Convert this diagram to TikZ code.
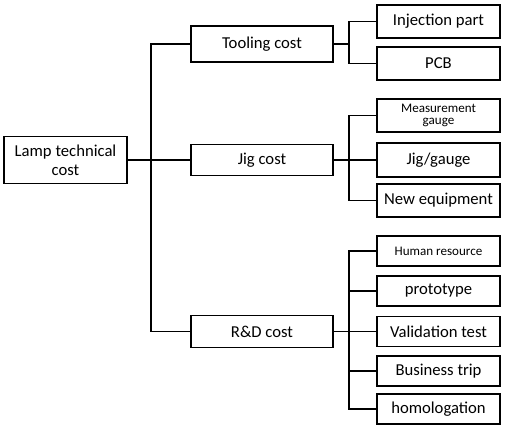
\documentclass[tikz,border=0pt]{standalone}
\usepackage{fontspec}
\setmainfont{Carlito}
\usepackage{tikz}

\begin{document}
\begin{tikzpicture}[x=0.75pt,y=-0.75pt,line width=1.4pt,
    box/.style={draw,inner sep=0pt,align=center,font=\fontsize{12.5}{14}\selectfont},
    leaf/.style={box,minimum width=92.25pt,minimum height=24.75pt},
    small/.style={font=\fontsize{9.8}{11}\selectfont}]
            \useasboundingbox (0,0) rectangle (506,429);
            \node[box,minimum width=92.25pt,minimum height=35.25pt] (lamp) at (65.5,160) {Lamp technical\\cost};
            \node[box,minimum width=106.5pt,minimum height=27pt] (tool) at (262,44) {Tooling cost};
            \node[box,minimum width=106.5pt,minimum height=23.25pt] (jig) at (262,160) {Jig cost};
            \node[box,minimum width=106.5pt,minimum height=24pt] (rd) at (262,331.5) {R\&D cost};
            \node[leaf] (inj) at (438.5,21.5) {Injection part};
            \node[leaf] (pcb) at (438.5,63.5) {PCB};
            \node[leaf,small] (meas) at (438.5,115.5) {Measurement\\[-2pt]gauge};
            \node[leaf,minimum height=25.5pt] (jg) at (438.5,160) {Jig/gauge};
            \node[leaf] (neweq) at (438.5,200.5) {New equipment};
            \node[leaf,small,minimum height=22.5pt] (human) at (438.5,251) {Human resource};
            \node[leaf,minimum height=22.5pt] (proto) at (438.5,291) {prototype};
            \node[leaf,minimum height=22.5pt] (valid) at (438.5,331.5) {Validation test};
            \node[leaf,minimum height=22.5pt] (trip) at (438.5,371) {Business trip};
            \node[leaf,minimum height=22.5pt] (homol) at (438.5,409) {homologation};
            \coordinate (trunk) at (151,0);
            \coordinate (busa) at (349,0);
            \draw (lamp.east) -- (jig.west);
            \draw (tool.west) -| (trunk |- jig.west) |- (rd.west);
            \draw (tool.east) -- (busa |- tool.east);
            \draw (inj.west) -| (busa |- tool.east) |- (pcb.west);
            \draw (jig.east) -- (jg.west);
            \draw (meas.west) -| (busa |- jg.west) |- (neweq.west);
            \draw (rd.east) -- (valid.west);
            \draw (human.west) -| (busa |- valid.west) |- (homol.west);
            \draw (busa |- proto.west) -- (proto.west);
            \draw (busa |- trip.west) -- (trip.west);
        \end{tikzpicture}
\end{document}
